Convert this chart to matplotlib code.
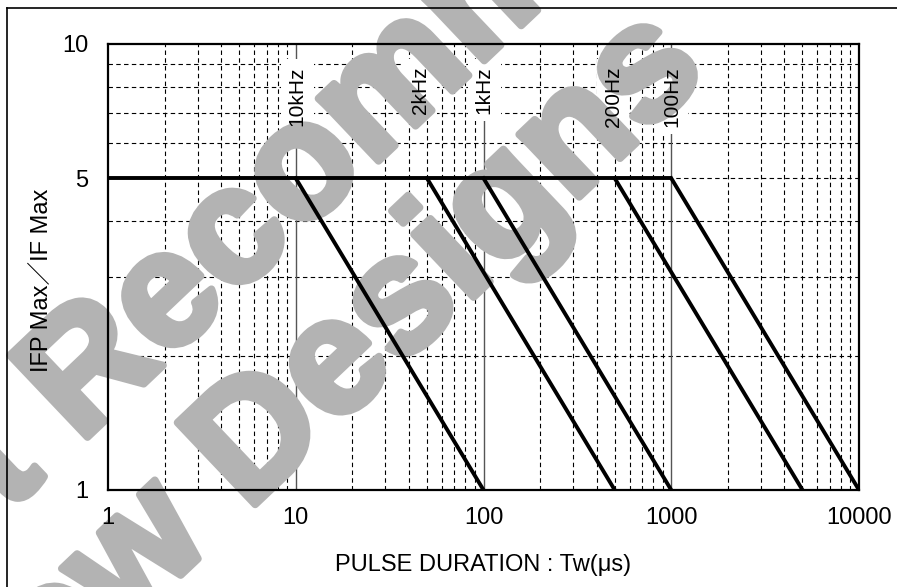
import numpy as np
import matplotlib
matplotlib.use("Agg")
import matplotlib.pyplot as plt
import matplotlib.patheffects as pe
from matplotlib.lines import Line2D
from matplotlib.ticker import FixedLocator, NullFormatter

plt.rcParams['font.family'] = ['Liberation Sans', 'Noto Sans CJK JP', 'DejaVu Sans']

# flat part (IFP/IF = 5) and the derating lines per frequency
flat_x = [1, 1000]
flat_y = [5, 5]
start_tw = [10, 50, 100, 500, 1000]
end_tw = [100, 500, 1000, 5000, 10000]
start_ratio = [5, 5, 5, 5, 5]
end_ratio = [1, 1, 1, 1, 1]
freq_labels = ['10kHz', '2kHz', '1kHz', '200Hz', '100Hz']
label_x = [10.2, 46, 101, 490, 1010]

x_ticks = [1, 10, 100, 1000, 10000]
x_ticklabels = ['1', '10', '100', '1000', '10000']
y_ticks = [1, 5, 10]
y_ticklabels = ['1', '5', '10']

W, H = 897, 587
fig = plt.figure(figsize=(W/100, H/100), dpi=100)
ax = fig.add_axes([108/W, 1-490/H, (859-108)/W, (490-44)/H])
ax.set_xscale('log')
ax.set_yscale('log')
ax.set_xlim(1, 10000)
ax.set_ylim(1, 10)

# grid
minor_x = [m * d for d in [1, 10, 100, 1000] for m in range(2, 10)]
minor_y = list(range(2, 10))
for v in minor_x:
    ax.axvline(v, color='black', lw=0.8, ls=(0, (4, 3)), zorder=1)
for v in minor_y:
    ax.axhline(v, color='black', lw=0.8, ls=(0, (4, 3)), zorder=1)
for v in [10, 100, 1000]:
    ax.axvline(v, color='#555555', lw=1.0, zorder=1)

ax.xaxis.set_major_locator(FixedLocator(x_ticks))
ax.set_xticklabels(x_ticklabels)
ax.yaxis.set_major_locator(FixedLocator(y_ticks))
ax.set_yticklabels(y_ticklabels)
ax.xaxis.set_minor_locator(FixedLocator([]))
ax.yaxis.set_minor_locator(FixedLocator([]))
ax.xaxis.set_minor_formatter(NullFormatter())
ax.yaxis.set_minor_formatter(NullFormatter())
ax.tick_params(length=0, labelsize=17)
ax.tick_params(axis='x', pad=12)
ax.tick_params(axis='y', pad=14)
ax.xaxis.set_zorder(8)
ax.yaxis.set_zorder(8)
for s in ax.spines.values():
    s.set_linewidth(1.6)
    s.set_zorder(6)

# data lines
ax.plot(flat_x, flat_y, color='black', lw=2.8, zorder=4, solid_capstyle='butt')
for x0, x1, y0, y1 in zip(start_tw, end_tw, start_ratio, end_ratio):
    ax.plot([x0, x1], [y0, y1], color='black', lw=2.8, zorder=4)

# frequency labels: white box below the watermark, text above it
trans = ax.get_xaxis_transform()
for lx, lab in zip(label_x, freq_labels):
    ax.text(lx, 0.95, lab, transform=trans, rotation=90, ha='center', va='top',
            fontsize=15, color='white', zorder=2,
            bbox=dict(facecolor='white', edgecolor='none', pad=5))
    ax.text(lx, 0.95, lab, transform=trans, rotation=90, ha='center', va='top',
            fontsize=15, color='black', zorder=7)

fig.text(483/W, 1-565/H, 'PULSE DURATION : Tw(μs)', fontsize=17, ha='center', va='center')
fig.text(43/W, 1-280/H, 'IFP Max／IF Max', fontsize=17, rotation=90, ha='center', va='center')

# watermark (inside the axes so the curves stay on top of it)
wm = dict(fontsize=118, fontweight='bold', color='#b3b3b3', rotation=43.5,
          ha='center', va='baseline', rotation_mode='anchor', zorder=3,
          transform=fig.transFigure, clip_on=False,
          path_effects=[pe.withStroke(linewidth=5.5, foreground='#b3b3b3')])
ax.text(390/W, 1-150/H, 'Not Recommended', **wm)
ax.text(244/W, 1-515/H, 'for New Designs', **wm)

# outer frame
fig.add_artist(Line2D([7/W, 1], [1-8/H, 1-8/H], color='black', lw=1.2, transform=fig.transFigure))
fig.add_artist(Line2D([7/W, 7/W], [0, 1-8/H], color='black', lw=1.2, transform=fig.transFigure))

fig.savefig('out.png', dpi=100)
